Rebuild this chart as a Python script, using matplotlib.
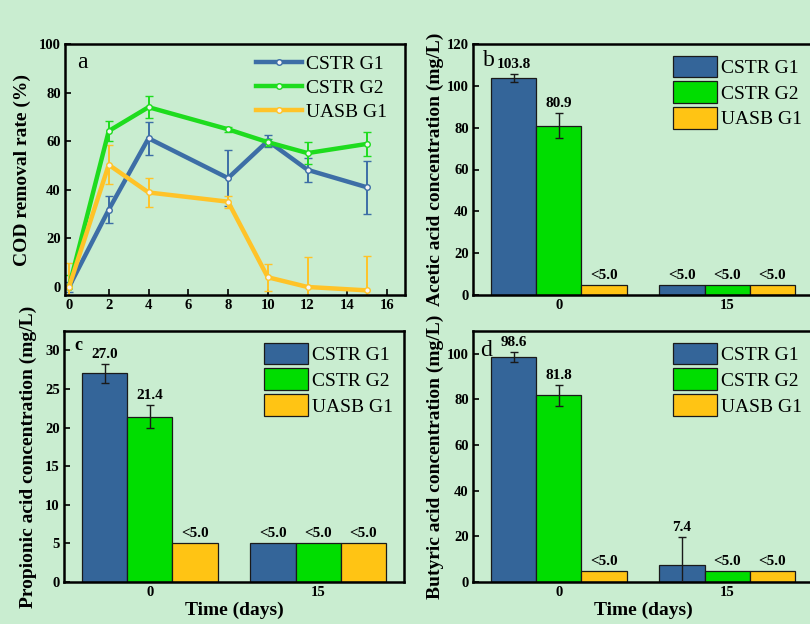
import numpy as np
import matplotlib
matplotlib.use("Agg")
import matplotlib.pyplot as plt
from matplotlib.patches import Patch
from matplotlib.lines import Line2D

plt.rcParams["font.family"] = ["Liberation Serif", "DejaVu Serif"]

# ---------------- data ----------------
series_names = ["CSTR G1", "CSTR G2", "UASB G1"]

# (a) COD removal rate over time
days = [0, 2, 4, 8, 10, 12, 15]
cod_cstr_g1 = [0, 31.8, 61.2, 44.8, 60.1, 48.2, 41.0]
cod_cstr_g1_err = [2.0, 5.6, 6.8, 11.4, 2.6, 4.8, 10.8]
cod_cstr_g2 = [0, 64.2, 74.0, 64.9, 59.6, 55.1, 58.9]
cod_cstr_g2_err = [5.0, 4.3, 4.4, 1.0, 1.5, 4.6, 4.8]
cod_uasb_g1 = [0, 50.3, 38.9, 35.1, 4.0, 0.0, -1.4]
cod_uasb_g1_err = [10.0, 8.0, 5.8, 2.4, 5.5, 12.2, 14.2]

# (b)-(d) volatile fatty acids at day 0 and day 15
time_labels = ["0", "15"]
acetic = {"CSTR G1": [103.8, 5.0], "CSTR G2": [80.9, 5.0], "UASB G1": [5.0, 5.0]}
acetic_err = {"CSTR G1": [1.9, 0], "CSTR G2": [6.0, 0], "UASB G1": [0, 0]}
acetic_txt = {"CSTR G1": ["103.8", "<5.0"], "CSTR G2": ["80.9", "<5.0"], "UASB G1": ["<5.0", "<5.0"]}

propionic = {"CSTR G1": [27.0, 5.0], "CSTR G2": [21.4, 5.0], "UASB G1": [5.0, 5.0]}
propionic_err = {"CSTR G1": [1.25, 0], "CSTR G2": [1.47, 0], "UASB G1": [0, 0]}
propionic_txt = {"CSTR G1": ["27.0", "<5.0"], "CSTR G2": ["21.4", "<5.0"], "UASB G1": ["<5.0", "<5.0"]}

butyric = {"CSTR G1": [98.6, 7.4], "CSTR G2": [81.8, 5.0], "UASB G1": [5.0, 5.0]}
butyric_err = {"CSTR G1": [2.3, 12.4], "CSTR G2": [4.7, 0], "UASB G1": [0, 0]}
butyric_txt = {"CSTR G1": ["98.6", "7.4"], "CSTR G2": ["81.8", "<5.0"], "UASB G1": ["<5.0", "<5.0"]}

# ---------------- style ----------------
bg = "#C9EDD0"
line_colors = {"CSTR G1": "#3D6EA6", "CSTR G2": "#1EDC1E", "UASB G1": "#FFC328"}
bar_colors = {"CSTR G1": "#346599", "CSTR G2": "#00DD00", "UASB G1": "#FFC414"}

fig = plt.figure(figsize=(8.1, 6.24), dpi=100, facecolor=bg)
W, H = 810, 624


def px_axes(left, top, width=340, height=251):
    return fig.add_axes([left / W, (H - top - height) / H, width / W, height / H])


def style_axes(ax):
    ax.set_facecolor("none")
    for s in ax.spines.values():
        s.set_linewidth(1.8)
    ax.tick_params(direction="in", width=1.2, length=4, labelsize=10.5, pad=3)
    for lab in ax.get_xticklabels() + ax.get_yticklabels():
        lab.set_fontweight("bold")


# ---------------- (a) ----------------
ax_a = px_axes(65, 44)
for name, y, e in [("CSTR G1", cod_cstr_g1, cod_cstr_g1_err),
                   ("CSTR G2", cod_cstr_g2, cod_cstr_g2_err),
                   ("UASB G1", cod_uasb_g1, cod_uasb_g1_err)]:
    ax_a.errorbar(days, y, yerr=e, color=line_colors[name], lw=3.2, capsize=3,
                  elinewidth=1.4, capthick=1.4, marker="o", ms=4,
                  mfc="#f4f4f4", mec=line_colors[name], mew=1.0, label=name)
ax_a.set_xlim(-0.2, 16.9)
ax_a.set_ylim(-3.3, 100)
ax_a.set_xticks(range(0, 17, 2))
ax_a.set_yticks(range(0, 101, 20))
ax_a.set_ylabel("COD removal rate (%)", fontsize=14, fontweight="bold", labelpad=6)
style_axes(ax_a)
handles = [Line2D([0], [0], color=line_colors[n], lw=3.2, marker="o", ms=4,
                  mfc="#f4f4f4", mec=line_colors[n], mew=1.0) for n in series_names]
ax_a.legend(handles, series_names, loc="upper right", frameon=False, fontsize=14,
            handlelength=2.4, labelspacing=0.32, handletextpad=0.2,
            borderaxespad=0.2, bbox_to_anchor=(0.982, 1.0))
ax_a.text(0.035, 0.97, "a", transform=ax_a.transAxes, fontsize=17, va="top", ha="left")

# ---------------- bar panels ----------------
bar_w = 0.268
x = np.arange(len(time_labels))


def bar_panel(ax, data, err, txt, ylim, yticks, ylabel, letter, letter_kw,
              xlabel=None, ylabelpad=6):
    for i, name in enumerate(series_names):
        pos = x + (i - 1) * bar_w
        ax.bar(pos, data[name], bar_w, color=bar_colors[name], edgecolor="#1a1a1a", lw=0.9, zorder=2)
        for j in range(len(x)):
            v, e = data[name][j], err[name][j]
            if e > 0:
                ax.errorbar(pos[j], v, yerr=e, color="#1a1a1a", capsize=3, elinewidth=1.0,
                            capthick=1.0, zorder=3)
            off = (ylim[1] - ylim[0]) * 0.012
            ax.text(pos[j], v + e + off, txt[name][j], ha="center", va="bottom",
                    fontsize=11, fontweight="bold", zorder=4)
    ax.set_xlim(-0.51, 1.51)
    ax.set_ylim(*ylim)
    ax.set_xticks(x)
    ax.set_xticklabels(time_labels)
    ax.set_yticks(yticks)
    ax.set_ylabel(ylabel, fontsize=14, fontweight="bold", labelpad=ylabelpad)
    if xlabel:
        ax.set_xlabel(xlabel, fontsize=14, fontweight="bold", labelpad=2)
    style_axes(ax)
    handles = [Patch(facecolor=bar_colors[n], edgecolor="#1a1a1a", lw=0.9) for n in series_names]
    ax.legend(handles, series_names, loc="upper right", frameon=False, fontsize=14,
              handlelength=2.3, handleheight=1.35, labelspacing=0.2, handletextpad=0.2,
              borderaxespad=0.2, bbox_to_anchor=(1.003, 1.0))
    ax.text(*letter_kw.pop("xy"), letter, transform=ax.transAxes, **letter_kw)


ax_b = px_axes(473, 44)
bar_panel(ax_b, acetic, acetic_err, acetic_txt, (0, 120), range(0, 121, 20),
          "Acetic acid concentration (mg/L)", "b",
          dict(xy=(0.03, 0.975), fontsize=17, va="top", ha="left"), ylabelpad=2)

ax_c = px_axes(64, 331)
bar_panel(ax_c, propionic, propionic_err, propionic_txt, (0, 32.5), range(0, 31, 5),
          "Propionic acid concentration (mg/L)", "c",
          dict(xy=(0.03, 0.975), fontsize=13, fontweight="bold", va="top", ha="left"),
          xlabel="Time (days)")

ax_d = px_axes(473, 331)
bar_panel(ax_d, butyric, butyric_err, butyric_txt, (0, 110), range(0, 101, 20),
          "Butyric acid concentration (mg/L)", "d",
          dict(xy=(0.02, 0.965), fontsize=17, va="top", ha="left"),
          xlabel="Time (days)", ylabelpad=2)

fig.savefig("out.png", dpi=100, facecolor=bg)
